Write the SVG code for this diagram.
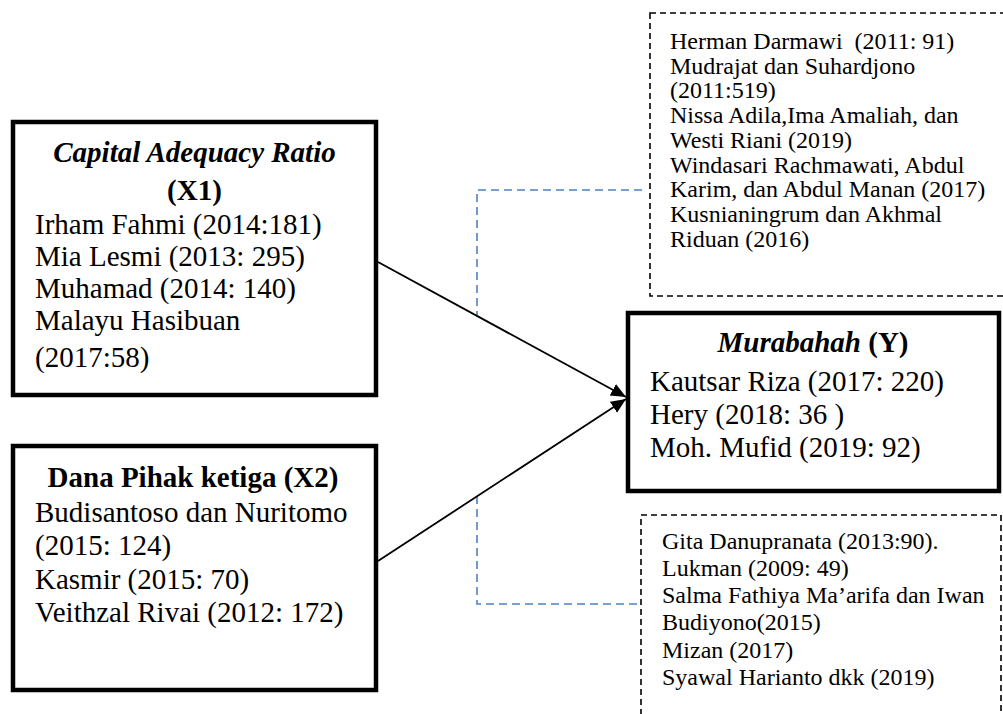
<svg xmlns="http://www.w3.org/2000/svg" width="1003" height="714" viewBox="0 0 1003 714">
<defs>
<style>
.box{fill:#fff;stroke:#000;stroke-width:4.5}
.dbox{fill:none;stroke:#000;stroke-width:1.6;stroke-dasharray:6 4}
.blue{fill:none;stroke:#4f81bd;stroke-width:1.6;stroke-dasharray:8 5}
.arrow{stroke:#000;stroke-width:1.8;fill:none}
.t{font-family:"Liberation Serif","Times New Roman",serif;font-size:29px;fill:#000}
.s{font-family:"Liberation Serif","Times New Roman",serif;font-size:24px;fill:#000}
.b{font-weight:bold}
.bi{font-weight:bold;font-style:italic}
.i{font-style:italic}
</style>
<marker id="ah" markerUnits="userSpaceOnUse" markerWidth="16" markerHeight="14" refX="15" refY="6.5" orient="auto">
<path d="M0,0 L15,6.5 L0,13 Z" fill="#000"/>
</marker>
</defs>
<g id="connectors">
<path class="blue" d="M642,190 H477 V316"/>
<path class="blue" d="M477,496 V604 H640"/>
<line class="arrow" x1="378" y1="262" x2="626" y2="397" marker-end="url(#ah)"/>
<line class="arrow" x1="378" y1="561" x2="626" y2="399" marker-end="url(#ah)"/>
</g>
<g id="node-car">
<rect class="box" x="13" y="122" width="363" height="273"/>
<text class="t bi" x="194.5" y="162" text-anchor="middle">Capital Adequacy Ratio</text>
<text class="t b" x="194.5" y="200" text-anchor="middle">(X1)</text>
<text class="t" x="35" y="234">Irham Fahmi (2014:181)</text>
<text class="t" x="35" y="266">Mia Lesmi (2013: 295)</text>
<text class="t" x="35" y="298">Muhamad (2014: 140)</text>
<text class="t" x="35" y="330">Malayu Hasibuan</text>
<text class="t" x="35" y="367">(2017:58)</text>
</g>
<g id="node-dpk">
<rect class="box" x="13" y="446" width="363" height="244"/>
<text class="t b" x="193" y="487" text-anchor="middle">Dana Pihak ketiga (X2)</text>
<text class="t" x="35" y="522">Budisantoso dan Nuritomo</text>
<text class="t" x="35" y="555">(2015: 124)</text>
<text class="t" x="35" y="589">Kasmir (2015: 70)</text>
<text class="t" x="35" y="622">Veithzal Rivai (2012: 172)</text>
</g>
<g id="node-murabahah">
<rect class="box" x="628" y="313" width="371" height="178"/>
<text class="t" x="813" y="352" text-anchor="middle"><tspan class="bi">Murabahah</tspan><tspan class="b"> (Y)</tspan></text>
<text class="t" x="650" y="391">Kautsar Riza (2017: 220)</text>
<text class="t" x="650" y="424">Hery (2018: 36 )</text>
<text class="t" x="650" y="457">Moh. Mufid (2019: 92)</text>
</g>
<g id="node-ref-top">
<rect class="dbox" x="650" y="13" width="380" height="283"/>
<text class="s" x="670" y="49">Herman Darmawi &#160;(2011: 91)</text>
<text class="s" x="670" y="74">Mudrajat dan Suhardjono</text>
<text class="s" x="670" y="98">(2011:519)</text>
<text class="s" x="670" y="123">Nissa Adila,Ima Amaliah, dan</text>
<text class="s" x="670" y="148">Westi Riani (2019)</text>
<text class="s" x="670" y="173">Windasari Rachmawati, Abdul</text>
<text class="s" x="670" y="197">Karim, dan Abdul Manan (2017)</text>
<text class="s" x="670" y="222">Kusnianingrum dan Akhmal</text>
<text class="s" x="670" y="247">Riduan (2016)</text>
</g>
<g id="node-ref-bottom">
<rect class="dbox" x="641" y="515" width="360" height="240"/>
<text class="s" x="662" y="549">Gita Danupranata (2013:90).</text>
<text class="s" x="662" y="576">Lukman (2009: 49)</text>
<text class="s" x="662" y="603">Salma Fathiya Ma’arifa dan Iwan</text>
<text class="s" x="662" y="630">Budiyono(2015)</text>
<text class="s" x="662" y="658">Mizan (2017)</text>
<text class="s" x="662" y="685">Syawal Harianto dkk (2019)</text>
</g>
</svg>
